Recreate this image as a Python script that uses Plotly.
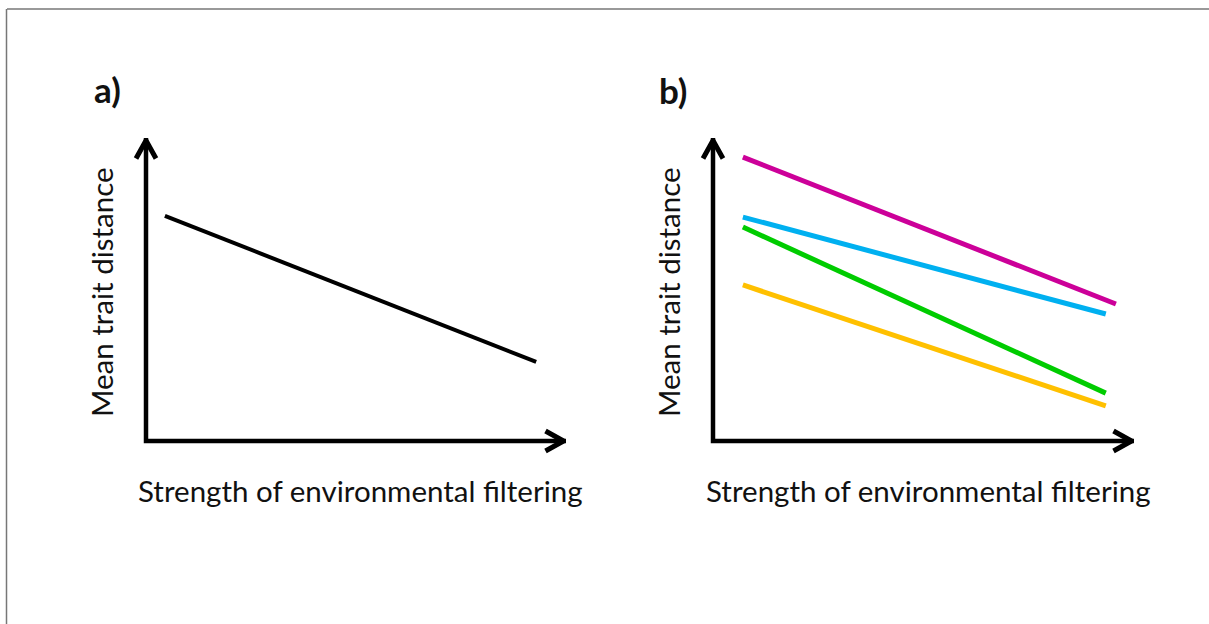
import plotly.graph_objects as go

# ---- data (arbitrary units: strength 0-10, distance 0-10) ----
strength_a = [0.45, 9.29]
distance_a = [7.43, 2.61]

strength_b_magenta = [0.71, 9.57]
distance_b_magenta = [9.37, 4.52]
strength_b_blue = [0.71, 9.33]
distance_b_blue = [7.39, 4.19]
strength_b_green = [0.71, 9.33]
distance_b_green = [7.06, 1.58]
strength_b_orange = [0.71, 9.33]
distance_b_orange = [5.15, 1.16]

panel_labels = ["a)", "b)"]
x_title = "Strength of environmental filtering"
y_title = "Mean trait distance"

# ---- layout geometry (pixels) ----
W, H = 1209, 624
FONT = "Lato"
TXT = "#111111"
AX_MIN, AX_MAX = 0.0, 10.0
R_MIN, R_MAX = -1.0, 11.0

# origin and arrow tips of the hand-drawn axes, per panel
panels = [
    dict(x0=146, xtip=566, y0=441, ytip=138),
    dict(x0=713, xtip=1134, y0=441, ytip=138),
]


def domains(p):
    sx = (p["xtip"] - p["x0"]) / (AX_MAX - AX_MIN)
    sy = (p["y0"] - p["ytip"]) / (AX_MAX - AX_MIN)
    left = p["x0"] + (R_MIN - AX_MIN) * sx
    right = p["x0"] + (R_MAX - AX_MIN) * sx
    bottom = p["y0"] - (R_MIN - AX_MIN) * sy
    top = p["y0"] - (R_MAX - AX_MIN) * sy
    return [left / W, right / W], [1 - bottom / H, 1 - top / H], sx, sy


fig = go.Figure()

layout_axes = {}
for i, p in enumerate(panels, start=1):
    xd, yd, sx, sy = domains(p)
    xa = "xaxis" if i == 1 else f"xaxis{i}"
    ya = "yaxis" if i == 1 else f"yaxis{i}"
    layout_axes[xa] = dict(domain=xd, range=[R_MIN, R_MAX], visible=False,
                           fixedrange=True, anchor="y" if i == 1 else f"y{i}")
    layout_axes[ya] = dict(domain=yd, range=[R_MIN, R_MAX], visible=False,
                           fixedrange=True, anchor="x" if i == 1 else f"x{i}")
    xr = "x" if i == 1 else f"x{i}"
    yr = "y" if i == 1 else f"y{i}"

    # L-shaped axes
    fig.add_trace(go.Scatter(x=[AX_MIN, AX_MIN, AX_MAX], y=[AX_MAX, AX_MIN, AX_MIN],
                             mode="lines", line=dict(color="black", width=4.5),
                             xaxis=xr, yaxis=yr, hoverinfo="skip", showlegend=False))
    # arrow heads (chevrons)
    back, side = 18, 10
    tip_inset_y = 2.5 / sy
    tip_inset_x = 2.5 / sx
    fig.add_trace(go.Scatter(
        x=[AX_MIN - side / sx, AX_MIN, AX_MIN + side / sx],
        y=[AX_MAX - tip_inset_y - back / sy, AX_MAX - tip_inset_y, AX_MAX - tip_inset_y - back / sy],
        mode="lines", line=dict(color="black", width=5),
        xaxis=xr, yaxis=yr, hoverinfo="skip", showlegend=False))
    fig.add_trace(go.Scatter(
        x=[AX_MAX - tip_inset_x - back / sx, AX_MAX - tip_inset_x, AX_MAX - tip_inset_x - back / sx],
        y=[AX_MIN + side / sy, AX_MIN, AX_MIN - side / sy],
        mode="lines", line=dict(color="black", width=5),
        xaxis=xr, yaxis=yr, hoverinfo="skip", showlegend=False))

# panel a: single trend
fig.add_trace(go.Scatter(x=strength_a, y=distance_a, mode="lines",
                         line=dict(color="black", width=4),
                         xaxis="x", yaxis="y", showlegend=False))

# panel b: several trends
for xs, ys, col in [
    (strength_b_magenta, distance_b_magenta, "#CC0099"),
    (strength_b_blue, distance_b_blue, "#00B0F0"),
    (strength_b_green, distance_b_green, "#00CC00"),
    (strength_b_orange, distance_b_orange, "#FFC000"),
]:
    fig.add_trace(go.Scatter(x=xs, y=ys, mode="lines",
                             line=dict(color=col, width=5),
                             xaxis="x2", yaxis="y2", showlegend=False))

annotations = []
label_pos = [(107, 89), (673, 90)]
for lab, (lx, ly) in zip(panel_labels, label_pos):
    annotations.append(dict(text=f"<b>{lab}</b>", x=lx / W, y=1 - ly / H, xref="paper", yref="paper",
                            xanchor="center", yanchor="middle", showarrow=False,
                            font=dict(family=FONT, size=35, color=TXT)))
for cx, ycx in [(360, 101), (928, 668)]:
    annotations.append(dict(text=x_title, x=cx / W, y=1 - 490 / H, xref="paper", yref="paper",
                            xanchor="center", yanchor="middle", showarrow=False,
                            font=dict(family=FONT, size=29.5, color=TXT)))
    annotations.append(dict(text=y_title, x=ycx / W, y=1 - 292 / H, xref="paper", yref="paper",
                            xanchor="center", yanchor="middle", showarrow=False, textangle=-90,
                            font=dict(family=FONT, size=29.5, color=TXT)))

# thin grey frame along top and left edges
shapes = [
    dict(type="line", xref="paper", yref="paper", x0=7 / W, x1=1, y0=1 - 9 / H, y1=1 - 9 / H,
         line=dict(color="#777777", width=1.5)),
    dict(type="line", xref="paper", yref="paper", x0=6.5 / W, x1=6.5 / W, y0=0, y1=1 - 9 / H,
         line=dict(color="#777777", width=1.5)),
]

fig.update_layout(
    width=W, height=H,
    margin=dict(l=0, r=0, t=0, b=0),
    paper_bgcolor="white", plot_bgcolor="rgba(0,0,0,0)",
    annotations=annotations, shapes=shapes,
    **layout_axes,
)

fig.write_html("out.html", config={"displayModeBar": False})
